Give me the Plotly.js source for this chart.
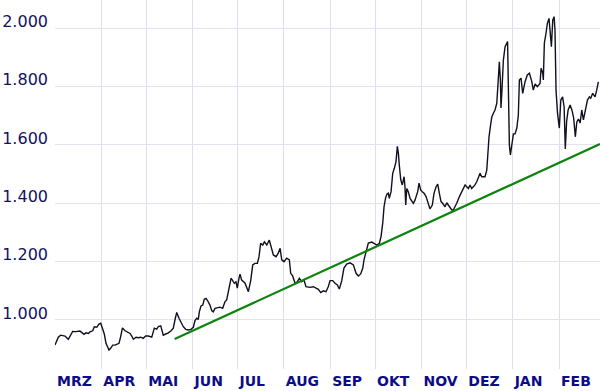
<!DOCTYPE html>
<html>
<head>
<meta charset="utf-8">
<script src="https://cdn.plot.ly/plotly-3.0.1.min.js"></script>
<style>
  html, body { margin: 0; padding: 0; background: #ffffff; }
  #chart { width: 600px; height: 391px; }
</style>
</head>
<body>
<div id="chart"></div>
<script>
// ---- data ----
const startDate = '2021-03-01';
// day offsets from start date
const days = [0,2.2,3.8,6.7,8.9,11.8,14,16.7,19.4,20.7,
22.3,23.4,25.2,26.3,27.9,29.4,30.6,31.6,33,34.1,
35,36.1,37.2,38.6,40.1,41.5,42.8,43.9,45.1,46.8,
48.3,50.2,51.3,52.4,54.2,55.7,57.3,59,60.6,62.4,
64.7,66.4,68,69.1,70.7,71.3,72.4,74,75.8,77.6,
79.1,80.2,81.4,82.9,84.3,85.8,87.4,89.1,90.9,92.5,
93.6,94.8,95.8,96.5,97.6,98.8,99.8,101,102.1,103.6,
104.8,105.8,107,108.8,110.3,112.1,113.7,114.8,115.9,117,
117.7,118.6,119.9,121,121.9,123,123.7,124.8,125.9,127,
129.3,130.9,132.2,133.7,135.3,136.4,137.5,138.9,140,141.6,
143.3,144.4,146,147.8,149.3,150.5,151.6,153.1,154.9,156.7,
157.6,158.9,160.5,162,163.4,165,166.5,167.8,170.5,172.7,
174.5,176.1,177.7,179.4,181.2,182.7,183.9,185.7,187.2,188.8,
190.1,191.7,193.2,195,197.3,199.5,201.3,202.8,204.4,205.8,
206.6,208,209.5,211.8,213.3,215.1,216.9,218,219.1,220,
221,222,222.9,223.5,224.7,225.8,226.9,228,228.9,229.6,
230.2,231.2,232.2,233.4,234,234.5,235.2,236.2,237.4,238.5,
239.6,240.7,242.5,243.4,244.5,245.6,246.9,248.1,249.2,250.7,
252.3,253.4,254.8,255.9,257,258.1,259.2,260.8,261.9,263,
264.1,265.3,266.3,267.5,268.6,270.4,271.9,273,274.2,275.3,
276.4,277.5,278.6,279.7,280.8,282,283,284.2,285.3,287.5,
288.7,289.3,290.2,291.4,292.1,293.1,294.2,295.4,296.1,297.1,
297.8,298.2,298.9,299.8,300.9,302.1,302.6,303.1,303.8,304.5,
305.4,306.5,307.6,308.8,309.8,310.5,311.6,312.7,314.3,315.8,
317.2,318.8,319.8,321,322.5,324.3,325,326.1,326.5,327.2,
328.3,329.2,330.3,331,331.9,332.8,333.7,334.3,335,336,
337.2,338.2,339.4,340.4,341.2,342.1,343.1,344.4,345.6,346.8,
347.9,348.9,350,351.1,352.2,353.3,354.4,356,357.3,358.2,
359.5,361.1,362.2,363.3];
const prices = [914,941,948,945,934,961,960,962,951,956,
954,959,963,977,975,986,989,974,951,920,
908,897,903,914,914,918,920,943,973,963,
960,954,945,934,941,939,941,937,945,945,
941,972,969,977,980,966,948,952,956,963,
972,1000,1026,1006,991,977,968,966,968,975,
998,1006,1002,1028,1048,1051,1071,1074,1066,1051,
1032,1028,1040,1042,1044,1040,1063,1069,1097,1126,
1143,1137,1126,1131,1109,1143,1157,1137,1131,1127,
1097,1137,1189,1194,1194,1217,1263,1257,1268,1257,
1274,1251,1223,1217,1229,1246,1206,1200,1212,1206,
1160,1151,1126,1131,1143,1131,1137,1114,1112,1114,
1109,1105,1094,1100,1097,1114,1135,1135,1126,1120,
1106,1134,1178,1192,1196,1189,1160,1151,1158,1178,
1206,1240,1264,1267,1262,1257,1263,1286,1331,1388,
1418,1432,1435,1417,1440,1503,1520,1543,1595,1571,
1531,1480,1463,1491,1457,1394,1451,1440,1417,1406,
1400,1411,1440,1469,1446,1440,1434,1423,1406,1381,
1394,1434,1457,1466,1434,1406,1400,1388,1402,1394,
1383,1377,1377,1388,1400,1423,1440,1451,1463,1457,
1451,1463,1451,1457,1463,1474,1491,1503,1491,1491,
1514,1560,1628,1674,1697,1709,1720,1743,1800,1885,
1823,1727,1794,1891,1936,1951,1955,1806,1600,1566,
1607,1638,1638,1658,1703,1823,1829,1777,1817,1840,
1846,1817,1788,1809,1800,1811,1863,1846,1823,1949,
1983,2017,2034,1987,1937,2028,2040,1994,1788,1709,
1658,1754,1765,1731,1586,1682,1720,1737,1720,1692,
1628,1679,1689,1675,1720,1686,1720,1754,1765,1760,
1777,1765,1788,1816];

// trend line (support)
const trendDays = [80, 364.4];
const trendValues = [935, 1603];

// axis ticks
const monthStarts = ['2021-03-01','2021-04-01','2021-05-01','2021-06-01','2021-07-01','2021-08-01',
                     '2021-09-01','2021-10-01','2021-11-01','2021-12-01','2022-01-01','2022-02-01'];
const monthLabels = ['MRZ','APR','MAI','JUN','JUL','AUG','SEP','OKT','NOV','DEZ','JAN','FEB'];
const yTickVals = [1000, 1200, 1400, 1600, 1800, 2000];
const yTickText = ['1.000', '1.200', '1.400', '1.600', '1.800', '2.000'];

// ---- helpers ----
const t0 = Date.parse(startDate + 'T00:00:00Z');
function toDate(d) {
  return new Date(t0 + d * 86400000).toISOString().slice(0, 19).replace('T', ' ');
}

const traces = [
  {
    x: days.map(toDate),
    y: prices,
    type: 'scatter',
    mode: 'lines',
    line: { color: '#101020', width: 1.4 },
    hoverinfo: 'skip'
  },
  {
    x: trendDays.map(toDate),
    y: trendValues,
    type: 'scatter',
    mode: 'lines',
    line: { color: '#0c840c', width: 2.2 },
    hoverinfo: 'skip'
  }
];

const layout = {
  width: 600,
  height: 391,
  margin: { l: 55, r: 0, t: 0, b: 22, pad: 0 },
  paper_bgcolor: '#ffffff',
  plot_bgcolor: '#ffffff',
  showlegend: false,
  font: { family: 'DejaVu Sans, Verdana, sans-serif' },
  xaxis: {
    type: 'date',
    range: [toDate(0), toDate(364.4)],
    tickmode: 'array',
    tickvals: monthStarts,
    ticktext: monthLabels,
    ticklabelposition: 'outside right',
    ticklabelshift: 2,
    ticklabelstandoff: 2,
    ticks: '',
    showgrid: true,
    gridcolor: '#dedef0',
    gridwidth: 1,
    zeroline: false,
    showline: false,
    tickfont: { family: 'DejaVu Sans, Verdana, sans-serif', size: 14, color: '#0c0c86', weight: 'bold' }
  },
  yaxis: {
    range: [832, 2097],
    tickmode: 'array',
    tickvals: yTickVals,
    ticktext: yTickText,
    ticks: '',
    ticklabelstandoff: 6,
    ticklabelshift: -7,
    showgrid: true,
    gridcolor: '#e2e2f2',
    gridwidth: 1,
    zeroline: false,
    showline: false,
    tickfont: { family: 'DejaVu Sans, Verdana, sans-serif', size: 16, color: '#12125e' }
  }
};

Plotly.newPlot('chart', traces, layout, { staticPlot: true, displayModeBar: false });
</script>
</body>
</html>
